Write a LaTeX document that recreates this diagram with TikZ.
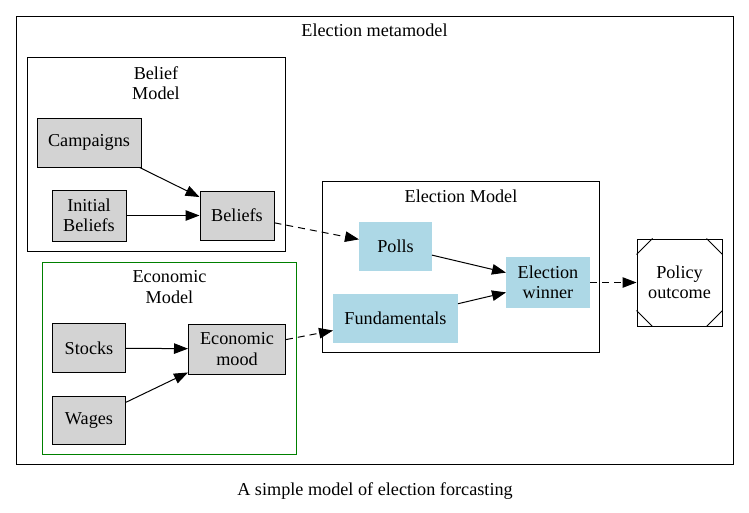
\documentclass[tikz,border=0pt]{standalone}
\usepackage{fontspec}
\setmainfont{Liberation Serif}
\usetikzlibrary{arrows.meta}
\definecolor{gvgray}{HTML}{D3D3D3}
\definecolor{gvblue}{HTML}{ADD8E6}
\definecolor{gvgreen}{HTML}{008000}
\begin{document}
\begin{tikzpicture}[x=1pt,y=-1pt,
  every node/.style={font=\fontsize{18.2}{20.5}\selectfont, align=center, inner sep=0pt},
  graybox/.style={draw=black, fill=gvgray, line width=1pt},
  bluebox/.style={draw=gvblue, fill=gvblue, line width=1pt},
  cluster/.style={draw=black, line width=1pt},
  edge/.style={line width=1pt, -{Triangle[length=14pt,width=10.5pt]}},
  dedge/.style={edge, dash pattern=on 7pt off 5pt},
  lbl/.style={}]
\useasboundingbox (0,0) rectangle (749,512);
% clusters
\draw[cluster] (16,16) rectangle (733,464);
\node[lbl] (tmeta) at (374.5,30) {Election metamodel};
\draw[cluster] (27,57) rectangle (285.5,251.5);
\node[lbl] (tbelief) at (156,83) {Belief\\Model};
\draw[cluster, draw=gvgreen] (42.5,262.5) rectangle (296.5,454.5);
\node[lbl] (tecon) at (169.5,287) {Economic\\Model};
\draw[cluster] (322.5,181.5) rectangle (599,352.5);
\node[lbl] (telec) at (461,196) {Election Model};
% nodes
\node[graybox, minimum width=104pt, minimum height=49pt] (camp) at (89,142.5) {Campaigns};
\node[graybox, minimum width=74pt, minimum height=51pt] (init) at (89,215.5) {Initial\\Beliefs};
\node[graybox, minimum width=74pt, minimum height=49pt] (bel) at (237,215.5) {Beliefs};
\node[graybox, minimum width=73pt, minimum height=49pt] (stocks) at (89,348) {Stocks};
\node[graybox, minimum width=73pt, minimum height=48pt] (wages) at (89,420) {Wages};
\node[graybox, minimum width=97pt, minimum height=50pt] (mood) at (237,349) {Economic\\mood};
\node[bluebox, minimum width=72pt, minimum height=48pt] (polls) at (395.5,246.5) {Polls};
\node[bluebox, minimum width=124pt, minimum height=48pt] (fund) at (395.5,318.5) {Fundamentals};
\node[bluebox, minimum width=83pt, minimum height=50pt] (win) at (548,282.5) {Election\\winner};
\node[draw=black, line width=1pt, minimum width=85pt, minimum height=87pt] (pol) at (679.5,282.5) {Policy\\outcome};
\draw[line width=1pt] ([yshift=-16pt]pol.north west) -- ([xshift=16pt]pol.north west);
\draw[line width=1pt] ([yshift=-16pt]pol.north east) -- ([xshift=-16pt]pol.north east);
\draw[line width=1pt] ([yshift=16pt]pol.south west) -- ([xshift=16pt]pol.south west);
\draw[line width=1pt] ([yshift=16pt]pol.south east) -- ([xshift=-16pt]pol.south east);
% edges
\draw[edge] (camp) -- (bel);
\draw[edge] (init) -- (bel);
\draw[edge] (stocks) -- (mood);
\draw[edge] (wages) -- (mood);
\draw[dedge] (bel) -- (polls);
\draw[dedge] (mood) -- (fund);
\draw[edge] (polls) -- (win);
\draw[edge] (fund) -- (win);
\draw[dedge] (win) -- (pol);
% caption
\node (cap) at (375,491) {A simple model of election forcasting};
\end{tikzpicture}
\end{document}
